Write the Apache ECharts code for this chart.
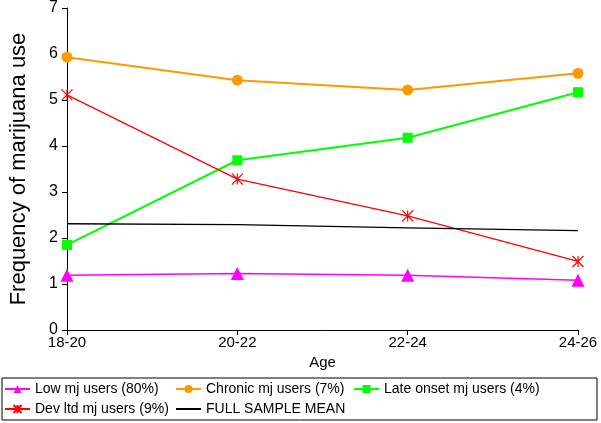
<!DOCTYPE html>
<html>
<head>
<meta charset="utf-8">
<script src="https://cdn.jsdelivr.net/npm/echarts@6/dist/echarts.min.js"></script>
<style>
  html, body { margin: 0; padding: 0; background: #fff; }
  #chart { width: 601px; height: 423px; }
</style>
</head>
<body>
<div id="chart"></div>
<script>
// 年龄段
var ages = ['18-20', '20-22', '22-24', '24-26'];
var lowUsers = [1.19, 1.23, 1.19, 1.08];
var chronicUsers = [5.93, 5.43, 5.22, 5.58];
var lateOnset = [1.85, 3.69, 4.18, 5.17];
var devLtd = [5.11, 3.28, 2.48, 1.49];
var sampleMean = [2.31, 2.29, 2.22, 2.16];
var yTicks = [0, 1, 2, 3, 4, 5, 6, 7];

var seriesNames = ['Low mj users (80%)', 'Chronic mj users (7%)', 'Late onset mj users (4%)', 'Dev ltd mj users (9%)', 'FULL SAMPLE MEAN'];

var font = 'Liberation Sans, Arial, sans-serif';
var starPath = 'path://M0,0L10,10M10,0L0,10M5,0L5,10';

var myChart = echarts.init(document.getElementById('chart'));

var legendBase = function (name, left, top, hideSymbol) {
  return {
    data: [hideSymbol ? { name: name, itemStyle: { opacity: 0 } } : name],
    left: left,
    top: top,
    itemWidth: 25,
    itemHeight: 10,
    itemGap: 0,
    padding: 0,
    textStyle: { fontFamily: font, fontSize: 14, color: '#000' }
  };
};

var option = {
  animation: false,
  textStyle: { fontFamily: font },
  grid: { left: 67, right: 23, top: 5, bottom: 93 },
  graphic: [{
    type: 'rect',
    shape: { x: 2, y: 378, width: 595, height: 42 },
    style: { fill: 'none', stroke: '#000', lineWidth: 1 }
  }],
  legend: [
    legendBase(seriesNames[0], 4, 382),
    legendBase(seriesNames[1], 175, 382),
    legendBase(seriesNames[2], 353, 382),
    legendBase(seriesNames[3], 4, 402),
    legendBase(seriesNames[4], 175, 402, true)
  ],
  xAxis: {
    type: 'category',
    data: ages,
    boundaryGap: false,
    name: 'Age',
    nameLocation: 'middle',
    nameGap: 23,
    nameTextStyle: { fontSize: 15, color: '#000', fontFamily: font },
    axisLine: { lineStyle: { color: '#000', width: 1 } },
    axisTick: { show: true, length: 5, lineStyle: { color: '#000' } },
    axisLabel: { fontSize: 15, color: '#000', margin: 5, fontFamily: font,
      showMinLabel: true, showMaxLabel: true },
    splitLine: { show: false }
  },
  yAxis: {
    type: 'value',
    min: yTicks[0],
    max: yTicks[yTicks.length - 1],
    interval: 1,
    name: 'Frequency of marijuana use',
    nameLocation: 'middle',
    nameGap: 37,
    nameTextStyle: { fontSize: 22, color: '#000', fontFamily: font },
    axisLine: { show: true, lineStyle: { color: '#000', width: 1 } },
    axisTick: { show: true, length: 5, lineStyle: { color: '#000' } },
    axisLabel: { fontSize: 16, color: '#000', margin: 9, fontFamily: font },
    splitLine: { show: false }
  },
  series: [
    {
      name: seriesNames[0],
      type: 'line',
      data: lowUsers,
      symbol: 'triangle',
      symbolSize: 13,
      itemStyle: { color: '#ff00ff' },
      lineStyle: { color: '#ff00ff', width: 1.5 }
    },
    {
      name: seriesNames[1],
      type: 'line',
      data: chronicUsers,
      symbol: 'circle',
      symbolSize: 11,
      itemStyle: { color: '#ff9900' },
      lineStyle: { color: '#ff9900', width: 2 }
    },
    {
      name: seriesNames[2],
      type: 'line',
      data: lateOnset,
      symbol: 'rect',
      symbolSize: 10,
      itemStyle: { color: '#00ff00' },
      lineStyle: { color: '#00ff00', width: 2 }
    },
    {
      name: seriesNames[3],
      type: 'line',
      data: devLtd,
      symbol: starPath,
      symbolSize: 11,
      itemStyle: { color: 'none', borderColor: '#ff0000', borderWidth: 1.2 },
      lineStyle: { color: '#ff0000', width: 1.3 }
    },
    {
      name: seriesNames[4],
      type: 'line',
      data: sampleMean,
      symbol: 'none',
      itemStyle: { color: '#000' },
      lineStyle: { color: '#000', width: 1.3 }
    }
  ]
};

myChart.setOption(option);
</script>
</body>
</html>
